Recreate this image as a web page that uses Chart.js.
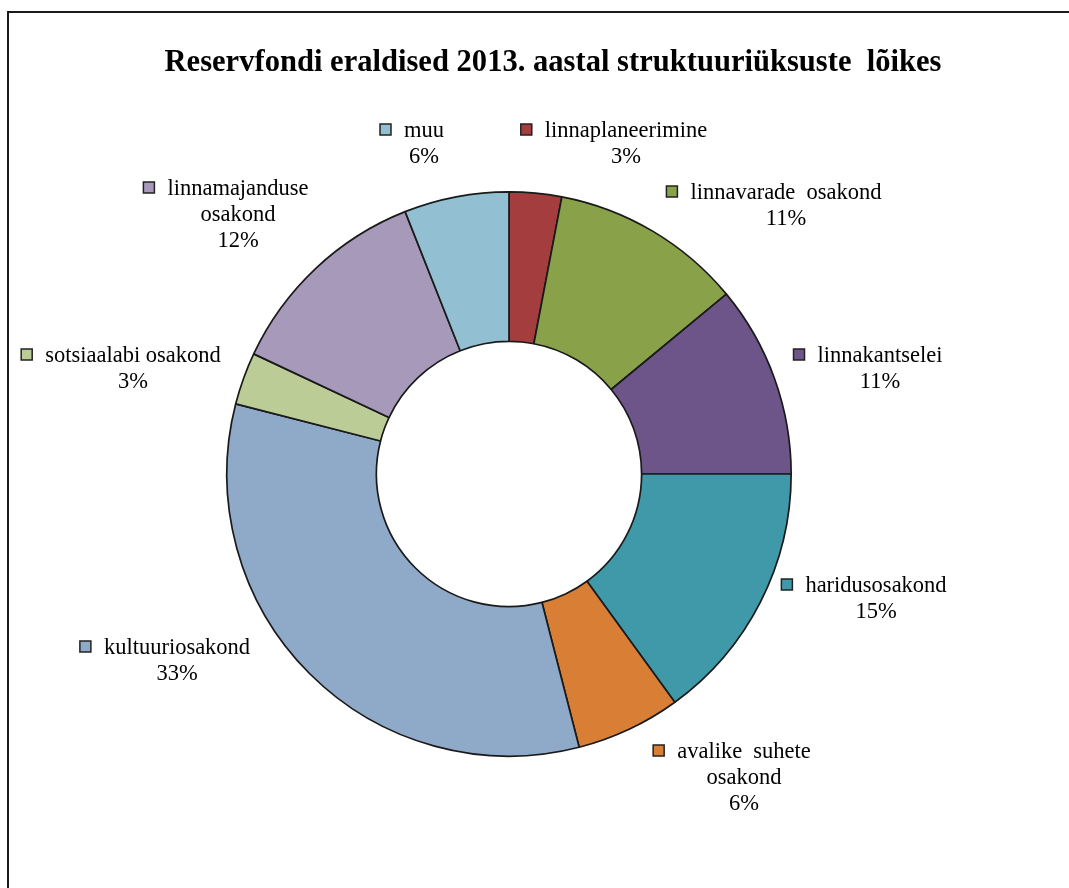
<!DOCTYPE html>
<html>
<head>
<meta charset="utf-8">
<script src="https://cdn.jsdelivr.net/npm/chart.js@4.4.0/dist/chart.umd.min.js"></script>
<style>
  html, body { margin: 0; padding: 0; background: #fff; overflow: hidden; }
  #frame { position: absolute; left: 7px; top: 11px; width: 1100px; height: 900px; border: 2px solid #1a1a1a; }
  #chart { position: absolute; left: 0; top: 0; }
</style>
</head>
<body>
<div id="frame"></div>
<canvas id="chart" width="1069" height="888"></canvas>
<script>
const chartTitle = "Reservfondi eraldised 2013. aastal struktuuriüksuste  lõikes"

// slices clockwise from 12 o'clock
const categories = ["linnaplaneerimine", "linnavarade osakond", "linnakantselei", "haridusosakond",
    "avalike suhete osakond", "kultuuriosakond", "sotsiaalabi osakond", "linnamajanduse osakond", "muu"]
const shares = [3, 11, 11, 15, 6, 33, 3, 12, 6]
const labelLines = [["linnaplaneerimine"], ["linnavarade  osakond"], ["linnakantselei"], ["haridusosakond"],
    ["avalike  suhete", "osakond"], ["kultuuriosakond"], ["sotsiaalabi osakond"], ["linnamajanduse", "osakond"], ["muu"]]
const sliceColors = ["#a43e3e", "#89a24a", "#6d5589", "#3f99a9", "#d97f35", "#8fa9c8", "#bbcc96", "#a699b9", "#92c0d2"]

// where each label sits, relative to the doughnut centre (text centre, middle of first line)
const labelOffsets = [[117, -343], [277, -281], [371, -118], [367, 112], [235, 278],
    [-332, 174], [-376, -118], [-271, -285], [-85, -343]]

const serif = "'Liberation Serif', 'Times New Roman', serif"

const labelPlugin = {
    id: "sliceLabels",
    afterDraw(chart) {
        const ctx = chart.ctx
        ctx.save()
        // title - the original is a narrow, tall bold serif, so squeeze it a bit
        ctx.fillStyle = "#000"
        ctx.font = "bold 32px " + serif
        ctx.textAlign = "center"
        ctx.textBaseline = "middle"
        const tw = ctx.measureText(chartTitle).width
        const sx = 777 / tw
        ctx.save()
        ctx.translate(553, 63)
        ctx.scale(sx, 1)
        ctx.fillText(chartTitle, 0, 0)
        ctx.restore()

        const arcs = chart.getDatasetMeta(0).data
        ctx.font = "22.5px " + serif
        arcs.forEach((arc, i) => {
            const cx = arc.x + labelOffsets[i][0]
            const cy = arc.y + labelOffsets[i][1]
            const lines = labelLines[i].concat([shares[i] + "%"])
            lines.forEach((line, j) => {
                ctx.fillStyle = "#000"
                ctx.fillText(line, cx, cy + j * 26)
            })
            // little legend key left of the first line
            const w = ctx.measureText(labelLines[i][0]).width
            const left = cx - w / 2
            ctx.fillStyle = sliceColors[i]
            ctx.fillRect(left - 24, cy - 7, 11, 11)
            ctx.strokeStyle = "#222"
            ctx.lineWidth = 1.5
            ctx.strokeRect(left - 24, cy - 7, 11, 11)
        })
        ctx.restore()
    }
}

const ctx = document.getElementById("chart")
const myChart = new Chart(ctx, {
    type: "doughnut",
    data: {
        labels: categories,
        datasets: [{
            data: shares,
            backgroundColor: sliceColors,
            borderColor: "#1a1a1a",
            borderWidth: 1.7,
            borderAlign: "center"
        }]
    },
    options: {
        responsive: false,
        animation: false,
        cutout: "47%",
        layout: {
            padding: { left: 226, top: 191, right: 277, bottom: 131 }
        },
        plugins: {
            legend: { display: false },
            tooltip: { enabled: false },
            title: { display: false }
        }
    },
    plugins: [labelPlugin]
})
</script>
</body>
</html>
